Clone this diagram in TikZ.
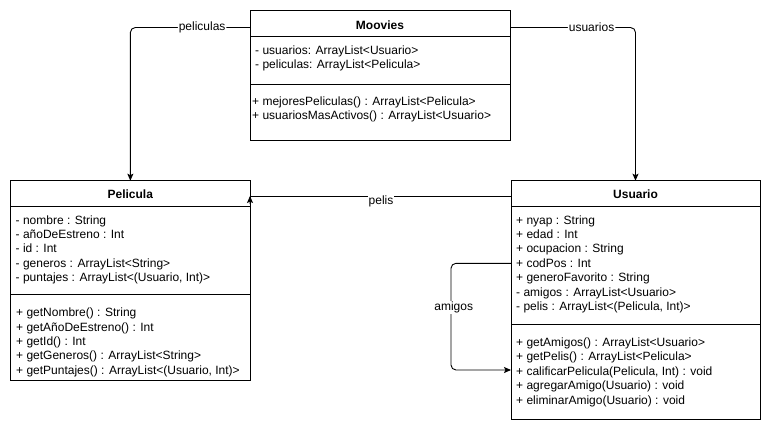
\documentclass[tikz,border=0pt]{standalone}
\usepackage{fontspec}
\setmainfont{Liberation Sans}
\usetikzlibrary{arrows.meta}

\begin{document}
\begin{tikzpicture}[x=1pt,y=1pt,yscale=-1,xscale=1,
  classbox/.style={draw, line width=0.9pt, rectangle, inner sep=0pt, outer sep=0pt, anchor=north west},
  title/.style={font=\fontsize{12}{14.4}\selectfont\bfseries, inner sep=0pt, anchor=base},
  member/.style={font=\fontsize{12}{14.4}\selectfont, inner sep=0pt, anchor=base west},
  link/.style={line width=0.9pt, rounded corners=5pt},
  tip/.style={-{Stealth[length=7pt,width=6pt,inset=1.5pt]}},
  lbl/.style={font=\fontsize{12}{14.4}\selectfont, fill=white, inner sep=1pt}]
\useasboundingbox (0,0) rectangle (771,431);

%Shape: Class [Moovies]
\node[classbox, minimum width=260pt, minimum height=129.3pt] (moovies) at (250,10.7) {};
\draw[line width=0.9pt] (250,36) -- (510,36) (250,84) -- (510,84);
\node[title] (moovies-t) at (380,29) {Moovies};
\foreach \txt [count=\i from 0] in {{- usuarios: ArrayList<Usuario>},{- peliculas: ArrayList<Pelicula>}}
  \node[member] (moovies-a\i) at (255,54.3+14.4*\i) {\txt};
\foreach \txt [count=\i from 0] in {{+ mejoresPeliculas() : ArrayList<Pelicula>},{+ usuariosMasActivos() : ArrayList<Usuario>}}
  \node[member] (moovies-m\i) at (252,105+14.4*\i) {\txt};

%Shape: Class [Pelicula]
\node[classbox, minimum width=239.3pt, minimum height=199.3pt] (pelicula) at (10.7,180.7) {};
\draw[line width=0.9pt] (10.7,206) -- (250,206) (10.7,294) -- (250,294);
\node[title] (pelicula-t) at (130.3,198.7) {Pelicula};
\foreach \txt [count=\i from 0] in {{- nombre : String},{- añoDeEstreno : Int},{- id : Int},{- generos : ArrayList<String>},{- puntajes : ArrayList<(Usuario, Int)>}}
  \node[member] (pelicula-a\i) at (15.5,224+14.4*\i) {\txt};
\foreach \txt [count=\i from 0] in {{+ getNombre() : String},{+ getAñoDeEstreno() : Int},{+ getId() : Int},{+ getGeneros() : ArrayList<String>},{+ getPuntajes() : ArrayList<(Usuario, Int)>}}
  \node[member] (pelicula-m\i) at (16,316.7+14.4*\i) {\txt};

%Shape: Class [Usuario]
\node[classbox, minimum width=249pt, minimum height=238.3pt] (usuario) at (511,180.7) {};
\draw[line width=0.9pt] (511,206) -- (760,206) (511,324.3) -- (760,324.3);
\node[title] (usuario-t) at (635.5,198.7) {Usuario};
\foreach \txt [count=\i from 0] in {{+ nyap : String},{+ edad : Int},{+ ocupacion : String},{+ codPos : Int},{+ generoFavorito : String},{- amigos : ArrayList<Usuario>},{- pelis : ArrayList<(Pelicula, Int)>}}
  \node[member] (usuario-a\i) at (516,224+14.4*\i) {\txt};
\foreach \txt [count=\i from 0] in {{+ getAmigos() : ArrayList<Usuario>},{+ getPelis() : ArrayList<Pelicula>},{+ calificarPelicula(Pelicula, Int) : void},{+ agregarAmigo(Usuario) : void},{+ eliminarAmigo(Usuario) : void}}
  \node[member] (usuario-m\i) at (516,346.5+14.4*\i) {\txt};

% Connectors
\coordinate (topY) at (0,27.5);
\coordinate (pelisY) at (0,196);
\coordinate (pelisHead) at (250,204);
\coordinate (amiTop) at (451,263.3);
\coordinate (amiBot) at (451,370);

\draw[link,tip] (moovies.west |- topY) -- node[lbl,pos=0.4] (peliculas-l) {peliculas} (pelicula.north |- topY) -- (pelicula.north);
\draw[link,tip] (moovies.east |- topY) -- node[lbl,pos=0.65] (usuarios-l) {usuarios} (usuario.north |- topY) -- (usuario.north);
\draw[link] (usuario.west |- pelisY) -- (pelicula.east |- pelisY);
\draw[link,tip] (pelisHead) -- (pelicula.east |- pelisY);
\node[lbl] (pelis-l) at (381,201) {pelis};
\draw[link,tip] (usuario.west |- amiTop) -- (amiTop) -- (amiBot) -- (usuario.west |- amiBot);
\node[lbl] (amigos-l) at (453.7,307.7) {amigos};

\end{tikzpicture}
\end{document}
